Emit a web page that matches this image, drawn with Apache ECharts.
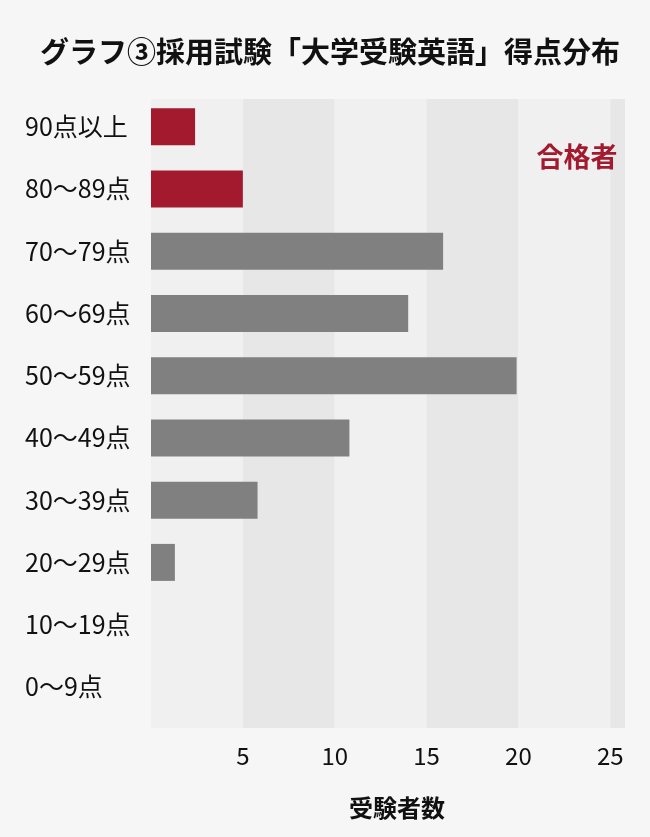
<!DOCTYPE html>
<html>
<head>
<meta charset="utf-8">
<script src="https://cdn.jsdelivr.net/npm/echarts@6/dist/echarts.min.js"></script>
<style>
html,body{margin:0;padding:0;background:#f6f6f6;}
#chart{width:650px;height:837px;}
</style>
</head>
<body>
<div id="chart"></div>
<script>
// ---- data ----
const categories = ['90点以上','80〜89点','70〜79点','60〜69点','50〜59点','40〜49点','30〜39点','20〜29点','10〜19点','0〜9点'];
const examinees = [2.4, 5, 15.9, 14, 19.9, 10.8, 5.8, 1.3, 0, 0];
const passingCategories = ['90点以上','80〜89点'];
const xTicks = [5, 10, 15, 20, 25];
const titleText = 'グラフ③採用試験「大学受験英語」得点分布';
const passLabel = '合格者';
const xAxisName = '受験者数';

const RED = '#a31a2f', GREY = '#808080';
const FONT = '"Noto Sans CJK JP", "Noto Sans", sans-serif';

const chart = echarts.init(document.getElementById('chart'));
chart.setOption({
  backgroundColor: '#f6f6f6',
  animation: false,
  textStyle: { fontFamily: FONT },
  title: [
    { text: titleText, left: 325, top: 47, textAlign: 'center', textVerticalAlign: 'middle',
      textStyle: { fontSize: 29, fontWeight: 'bold', color: '#111', fontFamily: FONT } },
    { text: passLabel, left: 572, top: 152, textAlign: 'center', textVerticalAlign: 'middle',
      textStyle: { fontSize: 27, fontWeight: 'bold', color: RED, fontFamily: FONT } },
    { text: xAxisName, left: 392, top: 803, textAlign: 'center', textVerticalAlign: 'middle',
      textStyle: { fontSize: 24, fontWeight: 'bold', color: '#111', fontFamily: FONT } }
  ],
  grid: [
    { left: 151, right: 25, top: 99, bottom: 109 },
    { left: 151, right: 25, top: 95.6, bottom: 119 }
  ],
  xAxis: [
    { gridIndex: 0, type: 'value', min: 0, max: 25.8, interval: 5,
      axisLine: { show: false }, axisTick: { show: false }, splitLine: { show: false },
      splitArea: { show: true, areaStyle: { color: ['#f0f0f0', '#e7e7e7'] } },
      axisLabel: { show: true, margin: 16, fontSize: 24, color: '#111', fontFamily: FONT,
        showMinLabel: false,
        formatter: v => (xTicks.indexOf(v) >= 0 ? String(v) : '') } },
    { gridIndex: 1, type: 'value', min: 0, max: 25.8, interval: 5, show: false,
      splitLine: { show: false }, splitArea: { show: false } }
  ],
  yAxis: [
    { gridIndex: 0, type: 'category', data: categories, inverse: true, show: false },
    { gridIndex: 1, type: 'category', data: categories, inverse: true,
      axisLine: { show: false }, axisTick: { show: false },
      axisLabel: { align: 'left', margin: 126, fontSize: 25, color: '#111', fontFamily: FONT } }
  ],
  series: [{
    type: 'bar',
    xAxisIndex: 1, yAxisIndex: 1,
    data: examinees,
    barWidth: 37,
    itemStyle: {
      color: p => passingCategories.indexOf(categories[p.dataIndex]) >= 0 ? RED : GREY
    }
  }]
});
</script>
</body>
</html>
